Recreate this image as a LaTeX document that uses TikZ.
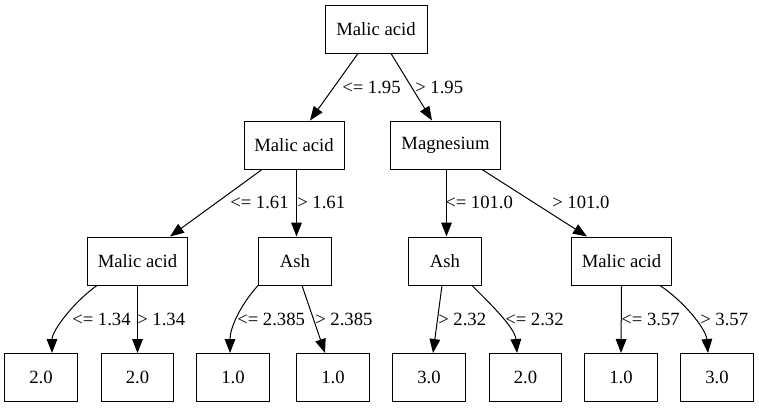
\documentclass[tikz,border=0pt]{standalone}
\usepackage{fontspec}
\setmainfont{Liberation Serif}
\usetikzlibrary{arrows.meta,calc}
\tikzset{
  box/.style={draw,line width=0.75pt,rectangle,minimum height=36pt,inner sep=0pt,font=\fontsize{14}{16}\selectfont},
  leaf/.style={box,minimum width=54.5pt},
  lbl/.style={anchor=west,inner sep=0pt,font=\fontsize{14}{16}\selectfont},
  edge/.style={line width=0.75pt,-{Triangle[length=10.5pt,width=8pt]}}
}
\begin{document}
\begin{tikzpicture}[x=0.75pt,y=-0.75pt]
\useasboundingbox (0,0) rectangle (759,407);
% internal nodes
\node[box,minimum width=76.5pt] (r) at (376,29) {Malic acid};
\node[box,minimum width=75pt] (a) at (294,145) {Malic acid};
\node[box,minimum width=82pt] (b) at (445.5,145) {Magnesium};
\node[box,minimum width=75pt] (c) at (137.5,261) {Malic acid};
\node[box,minimum width=54.5pt] (d) at (295,261) {Ash};
\node[box,minimum width=54.5pt] (e) at (445,261) {Ash};
\node[box,minimum width=75.5pt] (f) at (621.5,261) {Malic acid};
% leaves
\node[leaf] (l1) at (41,377.5) {2.0};
\node[leaf] (l2) at (137.5,377.5) {2.0};
\node[leaf] (l3) at (233,377.5) {1.0};
\node[leaf] (l4) at (333,377.5) {1.0};
\node[leaf] (l5) at (429,377.5) {3.0};
\node[leaf] (l6) at (525.5,377.5) {2.0};
\node[leaf] (l7) at (621,377.5) {1.0};
\node[leaf] (l8) at (717,377.5) {3.0};
% edges
\draw[edge] ($(r.south)+(-18,0)$) -- ($(a.north)+(16,0)$);
\draw[edge] ($(r.south)+(15,0)$) -- ($(b.north)+(-13.5,0)$);
\draw[edge] ($(a.south)+(-32,0)$) -- ($(c.north)+(32.5,0)$);
\draw[edge] ($(a.south)+(2.5,0)$) -- ($(d.north)+(1.5,0)$);
\draw[edge] ($(b.south)+(1,0)$) -- ($(e.north)+(1.5,0)$);
\draw[edge] ($(b.south)+(36.5,0)$) -- ($(f.north)+(-34.5,0)$);
\draw[edge] ($(c.south)+(-40.5,0)$) .. controls +(-24,17) and +(0,-22) .. ($(l1.north)+(11,0)$);
\draw[edge] (c.south) -- (l2.north);
\draw[edge] ($(d.south)+(-37,0)$) .. controls +(-18,20) and +(0,-25) .. ($(l3.north)+(-3,0)$);
\draw[edge] ($(d.south)+(7,0)$) -- ($(l4.north)+(-8,0)$);
\draw[edge] ($(e.south)+(-3,0)$) -- ($(l5.north)+(4,0)$);
\draw[edge] ($(e.south)+(27,0)$) .. controls +(20,20) and +(-2,-25) .. ($(l6.north)+(-8.5,0)$);
\draw[edge] (f.south) -- (l7.north);
\draw[edge] ($(f.south)+(38.5,0)$) .. controls +(24,16) and +(-2,-24) .. ($(l8.north)+(-9,0)$);
% labels
\node[lbl] (t1) at (342,87) {<= 1.95};
\node[lbl] (t2) at (415,87) {> 1.95};
\node[lbl] (t3) at (230,202) {<= 1.61};
\node[lbl] (t4) at (297,202) {> 1.61};
\node[lbl] (t5) at (445,202) {<= 101.0};
\node[lbl] (t6) at (552,202) {> 101.0};
\node[lbl] (t7) at (72,319) {<= 1.34};
\node[lbl] (t8) at (137,319) {> 1.34};
\node[lbl] (t9) at (237,319) {<= 2.385};
\node[lbl] (t10) at (315,319) {> 2.385};
\node[lbl] (t11) at (438,319) {> 2.32};
\node[lbl] (t12) at (505,319) {<= 2.32};
\node[lbl] (t13) at (621,319) {<= 3.57};
\node[lbl] (t14) at (700,319) {> 3.57};
\end{tikzpicture}
\end{document}
